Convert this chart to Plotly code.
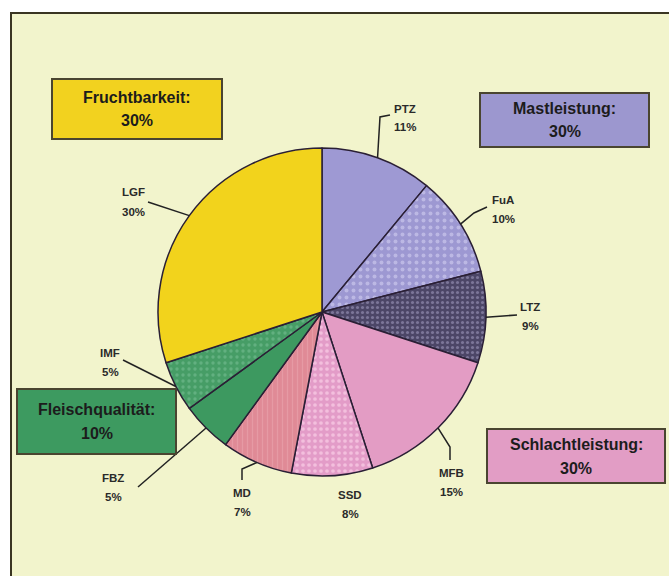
import math
import plotly.graph_objects as go

W, H = 669, 576

# ---- data ----
labels = ["PTZ", "FuA", "LTZ", "MFB", "SSD", "MD", "FBZ", "IMF", "LGF"]
values = [11, 10, 9, 15, 8, 7, 5, 5, 30]
groups = ["Fruchtbarkeit:", "Mastleistung:", "Fleischqualität:", "Schlachtleistung:"]
group_values = [30, 30, 10, 30]

# ---- styles ----
colors = ["#9e99d3", "#9d98d2", "#4c4667", "#e39cc4", "#e39cc8", "#e08a96", "#3d9960", "#469d66", "#f2d31c"]
pat_shape = ["", ".", ".", "", ".", "|", "", ".", ""]
pat_fg = ["#9e99d3", "#bcb8e4", "#7c7699", "#e39cc4", "#f3bfdd", "#e69aa4", "#3d9960", "#62b080", "#f2d31c"]
pat_size = [6, 7, 5, 6, 6, 5, 6, 6, 6]
pat_sol = [0.2, 0.25, 0.3, 0.2, 0.3, 0.25, 0.2, 0.25, 0.2]

def px(x):
    return x / W

def py(y):
    return 1 - y / H

# pie placement (pixels)
CX, CY, R = 322, 312, 164

fig = go.Figure()
fig.add_trace(go.Pie(
    labels=labels, values=values, sort=False, direction="clockwise", rotation=0,
    textinfo="none", hoverinfo="label+percent",
    marker=dict(colors=colors, line=dict(color="#2a1f35", width=1.5),
                pattern=dict(shape=pat_shape, fgcolor=pat_fg, bgcolor=colors,
                             size=pat_size, solidity=pat_sol)),
    domain=dict(x=[px(CX - R), px(CX + R)], y=[py(CY + R), py(CY - R)]),
    showlegend=False,
))

# label positions (pixels) and leader paths after rim point
label_pos = [(405, 118), (503, 209), (530, 316), (451, 482), (350, 504),
             (242, 502), (113, 487), (110, 362), (133, 202)]
leader = [[(380, 117), (390, 115)], [(474, 213), (487, 207)], [(517, 315)],
          [(450, 447), (450, 460)], [], [(242, 469), (242, 480)],
          [(138, 487)], [(123, 360)], [(148, 202)]]

shapes = []
# frame
shapes.append(dict(type="rect", xref="paper", yref="paper", x0=px(11), x1=px(671),
                   y0=py(578), y1=py(13), fillcolor="#f2f4cc",
                   line=dict(color="#3a3522", width=2), layer="below"))

small_font = dict(family="Liberation Sans, Arial", size=11.5, color="#2a2a2a")
total = sum(values)
cum = 0
annotations = []
for i, (lab, v) in enumerate(zip(labels, values)):
    mid = (cum + v / 2) / total * 2 * math.pi
    cum += v
    rx = CX + R * math.sin(mid)
    ry = CY - R * math.cos(mid)
    pts = [(rx, ry)] + leader[i]
    if len(pts) > 1:
        path = "M " + " L ".join(f"{px(a):.5f},{py(b):.5f}" for a, b in pts)
        shapes.append(dict(type="path", xref="paper", yref="paper", path=path,
                           line=dict(color="#222222", width=1.5)))
    lx, ly = label_pos[i]
    for txt, dy in ((f"<b>{lab}</b>", -9.5), (f"<b>{v}%</b>", 9.5)):
        annotations.append(dict(x=px(lx), y=py(ly + dy), xref="paper", yref="paper",
                                text=txt, showarrow=False, font=small_font,
                                xanchor="center", yanchor="middle"))

# group boxes
boxes = [(52, 79, 222, 139, "#f2d21f"), (480, 93, 649, 147, "#9c97cf"),
         (17, 389, 176, 454, "#3d9a60"), (487, 429, 665, 483, "#e29dc5")]
big_font = dict(family="Liberation Sans, Arial", size=16, color="#1c1c1c")
for (x0, y0, x1, y1, c), g, gv in zip(boxes, groups, group_values):
    shapes.append(dict(type="rect", xref="paper", yref="paper",
                       x0=px(x0), x1=px(x1), y0=py(y1), y1=py(y0),
                       fillcolor=c, line=dict(color="#4a4530", width=2)))
    cx, cy = (x0 + x1) / 2, (y0 + y1) / 2
    for txt, dy in ((f"<b>{g}</b>", -12), (f"<b>{gv}%</b>", 12)):
        annotations.append(dict(x=px(cx), y=py(cy + dy), xref="paper", yref="paper",
                                text=txt, showarrow=False, font=big_font,
                                xanchor="center", yanchor="middle"))

fig.update_layout(width=W, height=H, margin=dict(l=0, r=0, t=0, b=0),
                  paper_bgcolor="white", plot_bgcolor="white",
                  shapes=shapes, annotations=annotations)
fig.write_html("out.html", config={"displayModeBar": False},
               post_script="document.body.style.margin='0';document.body.style.padding='0';document.body.style.overflow='hidden';")
